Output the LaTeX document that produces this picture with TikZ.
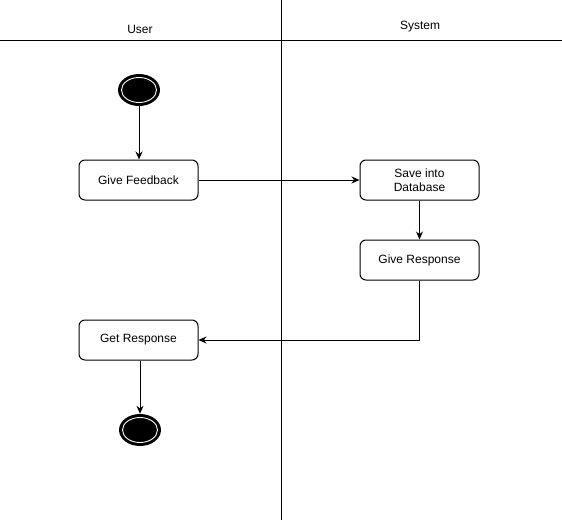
\documentclass[tikz,border=0pt]{standalone}
\usepackage{fontspec}
\setmainfont{Liberation Sans}
\usetikzlibrary{shapes.geometric,arrows.meta}
\begin{document}
\begin{tikzpicture}[x=1pt,y=-1pt,
  lane/.style={line width=1pt},
  lanetitle/.style={font=\fontsize{12}{14}\selectfont, inner sep=0},
  action/.style={draw, line width=1pt, rounded corners=6pt, minimum width=119pt,
    minimum height=40pt, align=center, inner sep=2pt,
    font=\fontsize{12}{14.5}\selectfont},
  terminal/.style={ellipse, fill=black, minimum width=42pt, minimum height=32pt, inner sep=0},
  ring/.style={white, line width=0.9pt},
  flow/.style={line width=1pt, -{Stealth[length=8pt,width=7pt]}}]
  \useasboundingbox (0,0) rectangle (562,522);

  % swimlane frame
  \draw[lane] (0,40) -- (562,40);
  \draw[lane] (281,0) -- (281,520);
  \node[lanetitle] (userlane) at (140,29) {User};
  \node[lanetitle] (syslane) at (420,27) {System};

  % start and end
  \node[terminal] (start) at (139,90) {};
  \draw[ring] (start.center) ellipse (17.5pt and 12.5pt);
  \node[terminal] (finish) at (140,430) {};
  \draw[ring] (finish.center) ellipse (17.5pt and 12.5pt);

  % actions
  \node[action] (feedback) at (138.5,180) {Give Feedback};
  \node[action] (save) at (419.5,180) {Save into\\Database};
  \node[action] (respond) at (419.5,260) {Give Response};
  \node[action] (get) at (138.5,340) {Get Response};

  % control flow
  \draw[flow] (start) -- (start |- feedback.north);
  \draw[flow] (feedback) -- (save);
  \draw[flow] (save) -- (respond);
  \draw[flow] (respond.south) |- (get.east);
  \draw[flow] (get.south -| finish) -- (finish);
\end{tikzpicture}
\end{document}
